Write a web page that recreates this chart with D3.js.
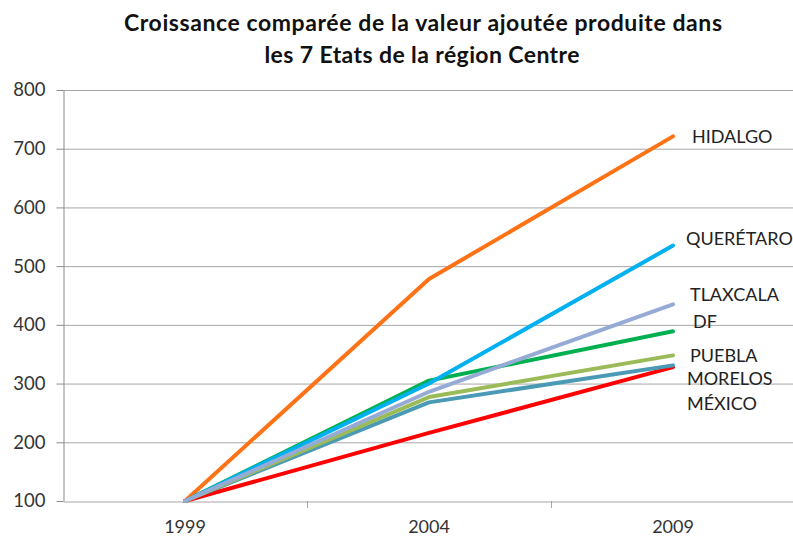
<!DOCTYPE html>
<html><head><meta charset="utf-8">
<script src="https://cdn.jsdelivr.net/npm/d3@7"></script>
<style>body{margin:0;background:#fff}svg{display:block}</style>
</head><body>
<svg id="c" width="793" height="537"></svg>
<script>
const years = ["1999", "2004", "2009"];
const yTicks = [100, 200, 300, 400, 500, 600, 700, 800];
const seriesNames = ["MÉXICO", "HIDALGO", "DF", "QUERÉTARO", "MORELOS", "PUEBLA", "TLAXCALA"];
const seriesColors = ["#ff0000", "#ff7215", "#00b050", "#00b0f0", "#4a9ab5", "#9bbb59", "#95abd6"];
const mexico = [100, 216, 328];
const hidalgo = [100, 478, 721];
const df = [100, 305, 389];
const queretaro = [100, 300, 535];
const morelos = [100, 268, 331];
const puebla = [100, 277, 348];
const tlaxcala = [100, 286, 435];
const seriesValues = [mexico, hidalgo, df, queretaro, morelos, puebla, tlaxcala];
// label vertical anchors (value units) for right-side labels
const labelValues = [[ "HIDALGO", 721 ], [ "QUERÉTARO", 547 ], [ "TLAXCALA", 452 ], [ "DF", 406 ], [ "PUEBLA", 348 ], [ "MORELOS", 309 ], [ "MÉXICO", 266 ]];
const labelX = {"HIDALGO": 692, "QUERÉTARO": 686, "TLAXCALA": 690, "DF": 693, "PUEBLA": 690, "MORELOS": 687, "MÉXICO": 687};

(function () {
const svg = d3.select("#c");
const mLeft = 63, mRight = 795, mTop = 90, mBottom = 501;
const x = d3.scaleBand().domain(years).range([mLeft, mRight]).padding(0);
const y = d3.scaleLinear().domain([100, 800]).range([mBottom, mTop]);
const font = "Lato, 'Open Sans', sans-serif";

// title
svg.append("text").attr("x", 423).attr("y", 31).attr("text-anchor", "middle")
  .attr("font-family", font).attr("font-weight", "bold").attr("font-size", 23).attr("fill", "#111")
  .attr("textLength", 598).attr("lengthAdjust", "spacing")
  .text("Croissance comparée de la valeur ajoutée produite dans");
svg.append("text").attr("x", 422).attr("y", 63).attr("text-anchor", "middle")
  .attr("font-family", font).attr("font-weight", "bold").attr("font-size", 23).attr("fill", "#111")
  .attr("textLength", 315).attr("lengthAdjust", "spacing")
  .text("les 7 Etats de la région Centre");

// gridlines
svg.append("g").selectAll("line").data(yTicks.filter(d => d > 100)).join("line")
  .attr("x1", mLeft).attr("x2", mRight).attr("y1", d => y(d) + 0.5).attr("y2", d => y(d) + 0.5)
  .attr("stroke", "#a6a6a6").attr("stroke-width", 1);

// y axis
const yAxis = svg.append("g").attr("transform", `translate(${mLeft + 0.5},0)`)
  .call(d3.axisLeft(y).tickValues(yTicks).tickSize(7).tickPadding(11).tickSizeOuter(0));
yAxis.select(".domain").attr("stroke", "#8c8c8c");
yAxis.selectAll(".tick line").attr("stroke", "#8c8c8c");
yAxis.selectAll(".tick text").attr("font-family", font).attr("font-size", 18.5).attr("fill", "#333");

// x axis
const xAxis = svg.append("g").attr("transform", `translate(0,${mBottom + 0.5})`)
  .call(d3.axisBottom(x).tickSize(0).tickPadding(19).tickSizeOuter(0));
xAxis.select(".domain").attr("stroke", "#a6a6a6");
xAxis.selectAll(".tick text").attr("font-family", font).attr("font-size", 18).attr("fill", "#333");
// category separator ticks
svg.append("g").selectAll("line").data(years.slice(1)).join("line")
  .attr("x1", d => Math.round(x(d)) + 0.5).attr("x2", d => Math.round(x(d)) + 0.5)
  .attr("y1", mBottom).attr("y2", mBottom + 7).attr("stroke", "#a6a6a6");

// lines
const line = d3.line().x((d, i) => x(years[i]) + x.bandwidth() / 2).y(d => y(d));
svg.append("g").selectAll("path").data(seriesValues).join("path")
  .attr("d", d => line(d)).attr("fill", "none")
  .attr("stroke", (d, i) => seriesColors[i]).attr("stroke-width", 4)
  .attr("stroke-linecap", "round").attr("stroke-linejoin", "round");

// labels
svg.append("g").selectAll("text").data(labelValues).join("text")
  .attr("x", d => labelX[d[0]]).attr("y", d => y(d[1])).attr("dy", "0.35em")
  .attr("font-family", font).attr("font-size", 18).attr("fill", "#222")
  .text(d => d[0]);
})();
</script>
</body></html>
